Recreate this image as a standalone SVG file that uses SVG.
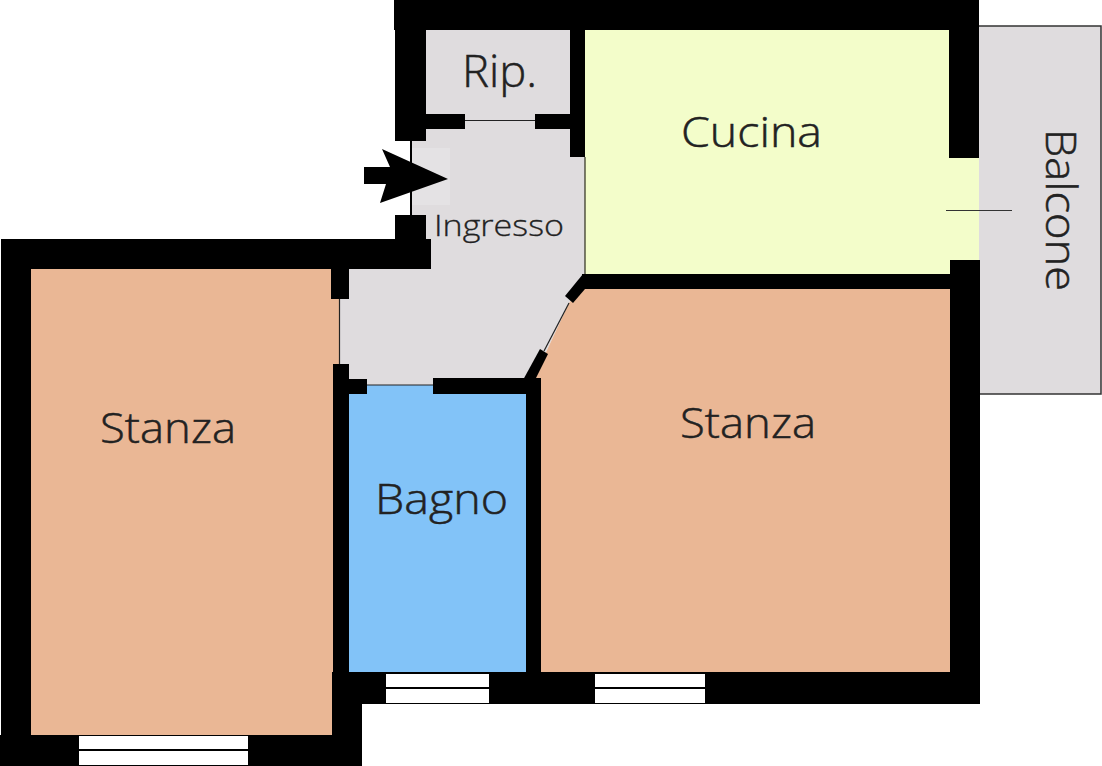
<svg xmlns="http://www.w3.org/2000/svg" width="1102" height="766" viewBox="0 0 1102 766">
<style>
.w{fill:#000}
.peach{fill:#eab795}
.gray{fill:#dfdcde}
.t{font-family:"Open Sans","Noto Sans",sans-serif;font-size:42px;font-weight:300;fill:#222;stroke:#222;stroke-width:.5px}
.door{stroke:#222;stroke-width:1.2;fill:none}
.win{fill:#fff}
</style>
<rect width="1102" height="766" fill="#fff"/>
<g id="balcone"><rect x="975" y="26" width="126" height="368" class="gray" stroke="#333" stroke-width="1.500"/><text class="t" transform="translate(1046 129) rotate(90)" textLength="162" lengthAdjust="spacingAndGlyphs">Balcone</text></g>
<g id="ripostiglio"><rect x="424" y="28" width="148" height="90" class="gray"/><text class="t" x="462" y="87" style="font-size:45px" textLength="75" lengthAdjust="spacingAndGlyphs">Rip.</text></g>
<g id="ingresso"><polygon points="411,116 575,116 585,150 585,275 572,298 530,385 340,385 340,265 411,265" class="gray"/><rect x="412" y="148" width="38" height="57" fill="#e4e2e4"/><text class="t" x="434" y="236" style="font-size:29px;stroke-width:.3px" textLength="130" lengthAdjust="spacingAndGlyphs">Ingresso</text></g>
<g id="cucina"><polygon points="585,30 952,30 952,158 979,158 979,262 952,262 952,276 585,276" fill="#f3fdca"/><text class="t" x="681" y="147" textLength="141" lengthAdjust="spacingAndGlyphs">Cucina</text></g>
<g id="stanza-sx"><rect x="29" y="267" width="311" height="470" class="peach"/><text class="t" x="100" y="443" textLength="136" lengthAdjust="spacingAndGlyphs">Stanza</text></g>
<g id="stanza-dx"><polygon points="533,380 569,303 582,287 952,287 952,674 539,674" class="peach"/><text class="t" x="680" y="438" textLength="136" lengthAdjust="spacingAndGlyphs">Stanza</text></g>
<g id="bagno"><rect x="347" y="385" width="181" height="289" fill="#82c3f8"/><text class="t" x="375" y="514" textLength="133" lengthAdjust="spacingAndGlyphs">Bagno</text></g>
<g id="muri">
<rect class="w" x="394" y="0" width="585" height="30"/>
<rect class="w" x="395" y="30" width="31" height="111"/>
<rect class="w" x="570" y="30" width="15" height="127"/>
<rect class="w" x="949" y="30" width="30" height="128"/>
<rect class="w" x="426" y="114" width="39" height="15"/>
<rect class="w" x="535" y="114" width="35" height="15"/>
<rect class="w" x="395" y="215" width="31" height="25"/>
<rect class="w" x="1" y="239" width="430" height="30"/>
<rect class="w" x="1" y="239" width="30" height="527"/>
<rect class="w" x="331" y="269" width="18" height="30"/>
<rect class="w" x="333" y="364" width="16" height="340"/>
<rect class="w" x="349" y="379" width="18" height="15"/>
<rect class="w" x="433" y="378" width="108" height="16"/>
<rect class="w" x="526" y="394" width="15" height="280"/>
<rect class="w" x="582" y="274" width="368" height="15"/>
<rect class="w" x="950" y="260" width="30" height="444"/>
<rect class="w" x="332" y="672" width="648" height="32"/>
<rect class="w" x="332" y="704" width="30" height="62"/>
<rect class="w" x="0" y="735" width="362" height="31"/>
<polygon class="w" points="583,274 591,282 573,303 565,296"/>
<polygon class="w" points="540,349 548,354 535,380 523,380"/>
</g>
<g id="finestre">
<rect class="win" x="79" y="736" width="169" height="29"/><rect class="w" x="79" y="749" width="169" height="2"/>
<rect class="win" x="386" y="674" width="103" height="29"/><rect class="w" x="386" y="687" width="103" height="2"/>
<rect class="win" x="595" y="674" width="110" height="29"/><rect class="w" x="595" y="687" width="110" height="2"/>
</g>
<g id="connettori">
<line class="door" x1="465" y1="120.500" x2="535" y2="120.500"/>
<line x1="411" y1="141" x2="411" y2="215" stroke="#000" stroke-width="2"/>
<line class="door" x1="339.500" y1="299" x2="339.500" y2="364"/>
<line x1="367" y1="385" x2="433" y2="385" stroke="#222" stroke-width="1"/>
<line class="door" x1="569" y1="303" x2="544" y2="351"/>
<line x1="946" y1="210.500" x2="1012" y2="210.500" stroke="#333" stroke-width="1"/>
<line x1="585" y1="157" x2="585" y2="274" stroke="#2c2c1c" stroke-width="1.200"/>
<polygon class="w" points="448,179 382,149 390,167 364,167 364,184 386,184 380,203"/>
</g>
</svg>
